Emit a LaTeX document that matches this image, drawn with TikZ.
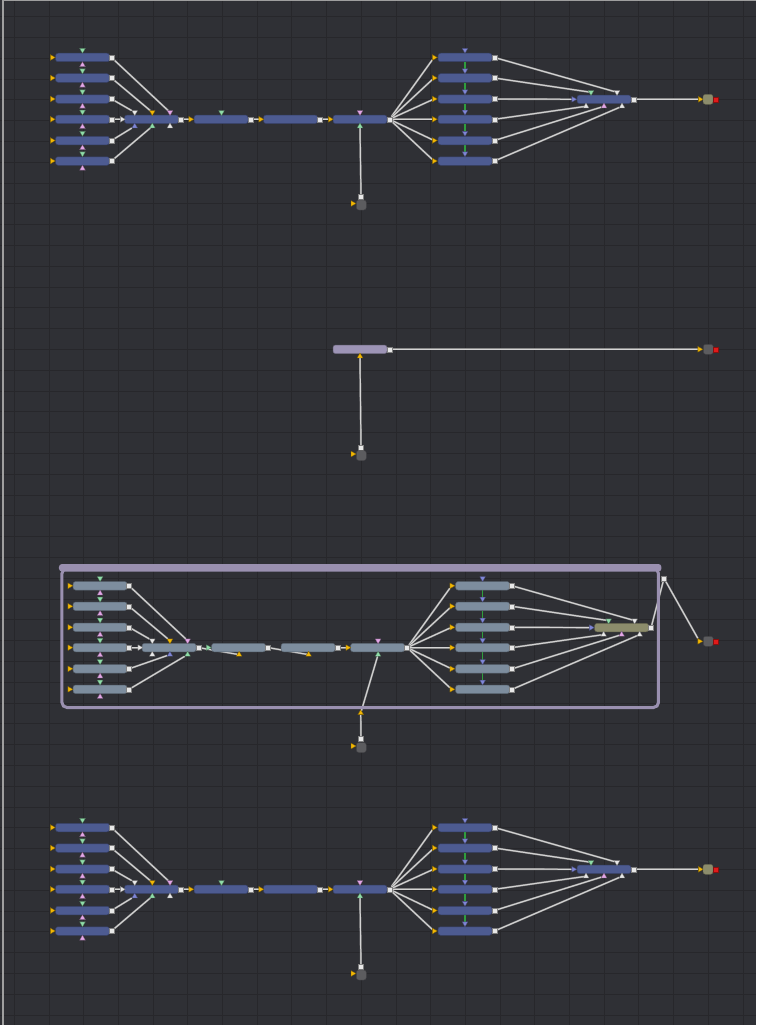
\documentclass[tikz,border=0pt]{standalone}
\usetikzlibrary{shapes.geometric}
\definecolor{bgcol}{HTML}{2F3035}
\definecolor{gridcol}{HTML}{27272B}
\definecolor{tileblue}{HTML}{4D5B91}
\definecolor{tilegrey}{HTML}{7D8D9E}
\definecolor{tilepurple}{HTML}{9D94B6}
\definecolor{grpcol}{HTML}{9A90B0}
\definecolor{saverolive}{HTML}{8C8C6C}
\definecolor{loadgrey}{HTML}{5C5C5F}
\definecolor{portyellow}{HTML}{F2B705}
\definecolor{portgreen}{HTML}{8FDCA8}
\definecolor{portpink}{HTML}{E2A6E6}
\definecolor{portblue}{HTML}{7F86D6}
\definecolor{portwhite}{HTML}{E8E8E8}
\definecolor{portred}{HTML}{E01A1A}
\definecolor{linkgreen}{HTML}{2E9E3E}
\definecolor{wirecol}{HTML}{D4D4D4}
\definecolor{wireedge}{HTML}{8A8A8A}
\pgfdeclarelayer{back}
\pgfdeclarelayer{wires}
\pgfsetlayers{back,wires,main}

\begin{document}
\begin{tikzpicture}[x=1pt, y=-1pt,
    tile/.style={draw=#1!70!black, fill=#1, rounded corners=2.5pt, line width=0.5pt,
                 minimum width=54pt, minimum height=8.5pt, inner sep=0pt},
    tile/.default=tileblue,
    tri/.style={regular polygon, regular polygon sides=3, minimum size=6.5pt, inner sep=0pt,
                fill=#1, draw=#1!55!black, line width=0.3pt},
    inp/.style={tri=#1, shape border rotate=-90},
    inp/.default=portyellow,
    topp/.style={tri=#1, shape border rotate=180},
    botp/.style={tri=#1},
    outp/.style={rectangle, fill=portwhite, draw=gray, line width=0.4pt,
                 minimum size=5pt, inner sep=0pt},
    redp/.style={outp, fill=portred, draw=portred!60!black},
    io/.style={rounded corners=2.5pt, minimum size=10pt, inner sep=0pt,
               fill=#1, draw=#1!70!black, line width=0.4pt},
    wire/.style={draw=wireedge, double=wirecol, double distance=1pt, line width=0.45pt},
    link/.style={draw=linkgreen, line width=1.3pt},
    gridline/.style={draw=gridcol, line width=0.9pt},
]
    \useasboundingbox (0,0) rectangle (756,1025);

    % Canvas and grid
    \begin{pgfonlayer}{back}
      \fill[bgcol] (0,0) rectangle (756,1025);
      \foreach \i in {0,...,21}
        \draw[gridline] (14.3+34.7*\i,0) -- (14.3+34.7*\i,1025);
      \foreach \j in {0,...,48}
        \draw[gridline] (0,16.7+20.8*\j) -- (756,16.7+20.8*\j);
      \draw[gray!75, line width=1.2pt] (3,1025) -- (3,0.6) -- (756,0.6);
    \end{pgfonlayer}

    % Flows 1 and 4 (same layout)
    \foreach \p/\dy in {a/0, d/770} {
    \begin{scope}[yshift=-\dy pt]
      % Left fan
      \foreach \y [count=\i] in {57.5,78,99,119.3,140.5,161} {
        \node[tile]           (\p-l\i)     at (82.5,\y)     {};
        \node[inp]            (\p-l\i-in)  at (52,\y)       {};
        \node[outp]           (\p-l\i-out) at (111.5,\y)    {};
        \node[topp=portgreen] (\p-l\i-fg)  at (82.5,\y-7.5) {};
        \node[botp=portpink]  (\p-l\i-mk)  at (82.5,\y+7.5) {};
      }
      \node[tile]            (\p-m)     at (151.5,119.3) {};
      \node[inp=portwhite]   (\p-m-in)  at (122,119.3)   {};
      \node[topp=portwhite]  (\p-m-t1)  at (134.7,112.3) {};
      \node[topp=portyellow] (\p-m-t2)  at (152.3,112.3) {};
      \node[topp=portpink]   (\p-m-t3)  at (170,112.3)   {};
      \node[botp=portblue]   (\p-m-b1)  at (134.7,126.3) {};
      \node[botp=portgreen]  (\p-m-b2)  at (152.3,126.3) {};
      \node[botp=portwhite]  (\p-m-b3)  at (170,126.3)   {};
      \node[outp]            (\p-m-out) at (181,119.3)   {};

      % Main spine
      \node[tile]           (\p-a)     at (221,119.3)   {};
      \node[inp]            (\p-a-in)  at (190.5,119.3) {};
      \node[topp=portgreen] (\p-a-fg)  at (221.5,112.3) {};
      \node[outp]           (\p-a-out) at (250.5,119.3) {};
      \node[tile]           (\p-b)     at (290.5,119.3) {};
      \node[inp]            (\p-b-in)  at (260.5,119.3) {};
      \node[outp]           (\p-b-out) at (320,119.3)   {};
      \node[tile]           (\p-c)     at (360,119.3)   {};
      \node[inp]            (\p-c-in)  at (330,119.3)   {};
      \node[topp=portpink]  (\p-c-fg)  at (360,112.3)   {};
      \node[botp=portgreen] (\p-c-mk)  at (360,126.3)   {};
      \node[outp]           (\p-c-out) at (389.5,119.3) {};

      \node[outp]         (\p-ld-out) at (361,197)     {};
      \node[io=loadgrey]  (\p-ld)     at (361.3,205)   {};
      \node[inp]          (\p-ld-in)  at (352.7,203.5) {};

      % Right fan
      \foreach \y [count=\i] in {57.5,78,99,119.3,140.5,161} {
        \node[tile]          (\p-r\i)     at (465,\y)     {};
        \node[inp]           (\p-r\i-in)  at (434,\y)     {};
        \node[outp]          (\p-r\i-out) at (494.5,\y)   {};
        \node[topp=portblue] (\p-r\i-fg)  at (465,\y-7.5) {};
      }
      \node[tile]           (\p-n)     at (604,99.3)   {};
      \node[inp=portblue]   (\p-n-in)  at (573.5,99.3) {};
      \node[topp=portgreen] (\p-n-t1)  at (591,92.3)   {};
      \node[topp=portwhite] (\p-n-t2)  at (617,92.3)   {};
      \node[botp=portwhite] (\p-n-b1)  at (586,106.3)  {};
      \node[botp=portpink]  (\p-n-b2)  at (604,106.3)  {};
      \node[botp=portwhite] (\p-n-b3)  at (622,106.3)  {};
      \node[outp]           (\p-n-out) at (633.5,99.3) {};

      \node[inp]           (\p-sv-in)  at (700,99.3)   {};
      \node[io=saverolive] (\p-sv)     at (708,99.3)   {};
      \node[redp]          (\p-sv-out) at (715.5,99.3) {};

      \begin{pgfonlayer}{wires}
        \draw[wire] (\p-l1-out) -- (\p-m-t3);
        \draw[wire] (\p-l2-out) -- (\p-m-t2);
        \draw[wire] (\p-l3-out) -- (\p-m-t1);
        \draw[wire] (\p-l4-out) -- (\p-m-in);
        \draw[wire] (\p-l5-out) -- (\p-m-b1);
        \draw[wire] (\p-l6-out) -- (\p-m-b2);
        \draw[wire] (\p-m-out) -- (\p-a-in);
        \draw[wire] (\p-a-out) -- (\p-b-in);
        \draw[wire] (\p-b-out) -- (\p-c-in);
        \draw[wire] (\p-c-mk) -- (\p-ld-out);
        \foreach \i in {1,...,6}
          \draw[wire] (\p-c-out) -- (\p-r\i-in);
        \foreach \i/\j in {1/2,2/3,3/4,4/5,5/6}
          \draw[link] (\p-r\i.south) -- (\p-r\j-fg);
        \draw[wire] (\p-r1-out) -- (\p-n-t2);
        \draw[wire] (\p-r2-out) -- (\p-n-t1);
        \draw[wire] (\p-r3-out) -- (\p-n-in);
        \draw[wire] (\p-r4-out) -- (\p-n-b1);
        \draw[wire] (\p-r5-out) -- (\p-n-b2);
        \draw[wire] (\p-r6-out) -- (\p-n-b3);
        \draw[wire] (\p-n-out) -- (\p-sv-in);
      \end{pgfonlayer}
    \end{scope}
    }

    % Flow 2
    \node[tile=tilepurple] (pt)      at (360,349.3)   {};
    \node[outp]            (pt-out)  at (389.5,349.3) {};
    \node[botp=portyellow] (pt-fx)   at (360,356.3)   {};
    \node[outp]            (ld2-out) at (361,447.5)   {};
    \node[io=loadgrey]     (ld2)     at (361.3,455.5) {};
    \node[inp]             (ld2-in)  at (352.7,454)   {};
    \node[inp]             (sv2-in)  at (699.5,349.3) {};
    \node[io=loadgrey]     (sv2)     at (708.3,349.3) {};
    \node[redp]            (sv2-out) at (716,349.3)   {};
    \begin{pgfonlayer}{wires}
      \draw[wire] (pt-out) -- (sv2-in);
      \draw[wire] (pt-fx) -- (ld2-out);
    \end{pgfonlayer}

    % Flow 3: group
    \node[draw=grpcol, line width=3pt, rounded corners=5pt, inner sep=0pt,
          minimum width=596.5pt, minimum height=139pt] (grp) at (360.2,638) {};
    \fill[grpcol, rounded corners=3pt] ([shift={(-1.5pt,3pt)}]grp.north west)
        rectangle ([shift={(1.5pt,-4.5pt)}]grp.north east);
    \node[botp=portyellow] (grp-in)  at (360.7,713) {};
    \node[outp]            (grp-out) at (664,578.3) {};

    \begin{scope}[shift={(17.6,528.3)}]
      \foreach \y [count=\i] in {57.5,78,99,119.3,140.5,161} {
        \node[tile=tilegrey]  (g-l\i)     at (82.5,\y)     {};
        \node[inp]            (g-l\i-in)  at (52,\y)       {};
        \node[outp]           (g-l\i-out) at (111.5,\y)    {};
        \node[topp=portgreen] (g-l\i-fg)  at (82.5,\y-7.5) {};
        \node[botp=portpink]  (g-l\i-mk)  at (82.5,\y+7.5) {};
      }
      \node[tile=tilegrey]   (g-m)     at (151.5,119.3) {};
      \node[inp=portwhite]   (g-m-in)  at (122,119.3)   {};
      \node[topp=portwhite]  (g-m-t1)  at (134.7,112.3) {};
      \node[topp=portyellow] (g-m-t2)  at (152.3,112.3) {};
      \node[topp=portpink]   (g-m-t3)  at (170,112.3)   {};
      \node[botp=portwhite]  (g-m-b1)  at (134.7,126.3) {};
      \node[botp=portblue]   (g-m-b2)  at (152.3,126.3) {};
      \node[botp=portgreen]  (g-m-b3)  at (170,126.3)   {};
      \node[outp]            (g-m-out) at (181,119.3)   {};

      \node[tile=tilegrey]   (g-a)     at (221,119.3)   {};
      \node[inp=portgreen]   (g-a-in)  at (190.5,119.3) {};
      \node[botp=portyellow] (g-a-fx)  at (221.5,126.3) {};
      \node[outp]            (g-a-out) at (250.5,119.3) {};
      \node[tile=tilegrey]   (g-b)     at (290.5,119.3) {};
      \node[botp=portyellow] (g-b-fx)  at (291,126.3)   {};
      \node[outp]            (g-b-out) at (320,119.3)   {};
      \node[tile=tilegrey]   (g-c)     at (360,119.3)   {};
      \node[inp]             (g-c-in)  at (330,119.3)   {};
      \node[topp=portpink]   (g-c-fg)  at (360.5,112.3) {};
      \node[botp=portgreen]  (g-c-mk)  at (360.5,126.3) {};
      \node[outp]            (g-c-out) at (389.5,119.3) {};

      \foreach \y [count=\i] in {57.5,78,99,119.3,140.5,161} {
        \node[tile=tilegrey] (g-r\i)     at (465,\y)     {};
        \node[inp]           (g-r\i-in)  at (434,\y)     {};
        \node[outp]          (g-r\i-out) at (494.5,\y)   {};
        \node[topp=portblue] (g-r\i-fg)  at (465,\y-7.5) {};
      }
      \node[tile=saverolive] (g-n)     at (604,99.3)   {};
      \node[inp=portblue]    (g-n-in)  at (573.5,99.3) {};
      \node[topp=portgreen]  (g-n-t1)  at (591,92.3)   {};
      \node[topp=portwhite]  (g-n-t2)  at (617,92.3)   {};
      \node[botp=portwhite]  (g-n-b1)  at (586,106.3)  {};
      \node[botp=portpink]   (g-n-b2)  at (604,106.3)  {};
      \node[botp=portwhite]  (g-n-b3)  at (622,106.3)  {};
      \node[outp]            (g-n-out) at (633.5,99.3) {};
    \end{scope}

    \node[outp]        (ld3-out) at (361,739)     {};
    \node[io=loadgrey] (ld3)     at (361.3,747.5) {};
    \node[inp]         (ld3-in)  at (352.7,746)   {};
    \node[inp]         (sv3-in)  at (699.5,641.3) {};
    \node[io=loadgrey] (sv3)     at (708.3,641.3) {};
    \node[redp]        (sv3-out) at (716,641.3)   {};

    \begin{pgfonlayer}{wires}
      \draw[wire] (g-l1-out) -- (g-m-t3);
      \draw[wire] (g-l2-out) -- (g-m-t2);
      \draw[wire] (g-l3-out) -- (g-m-t1);
      \draw[wire] (g-l4-out) -- (g-m-in);
      \draw[wire] (g-l5-out) -- (g-m-b2);
      \draw[wire] (g-l6-out) -- (g-m-b3);
      \draw[wire] (g-m-out) -- (g-a-fx);
      \draw[wire] (g-a-out) -- (g-b-fx);
      \draw[wire] (g-b-out) -- (g-c-in);
      \draw[wire] (g-c-mk) -- (grp-in);
      \draw[wire] (grp-in) -- (ld3-out);
      \foreach \i in {1,...,6}
        \draw[wire] (g-c-out) -- (g-r\i-in);
      \foreach \i/\j in {1/2,2/3,3/4,4/5,5/6}
        \draw[link] (g-r\i.south) -- (g-r\j-fg);
      \draw[wire] (g-r1-out) -- (g-n-t2);
      \draw[wire] (g-r2-out) -- (g-n-t1);
      \draw[wire] (g-r3-out) -- (g-n-in);
      \draw[wire] (g-r4-out) -- (g-n-b1);
      \draw[wire] (g-r5-out) -- (g-n-b2);
      \draw[wire] (g-r6-out) -- (g-n-b3);
      \draw[wire] (g-n-out) -- (grp-out);
      \draw[wire] (grp-out) -- (sv3-in);
    \end{pgfonlayer}

\end{tikzpicture}
\end{document}
